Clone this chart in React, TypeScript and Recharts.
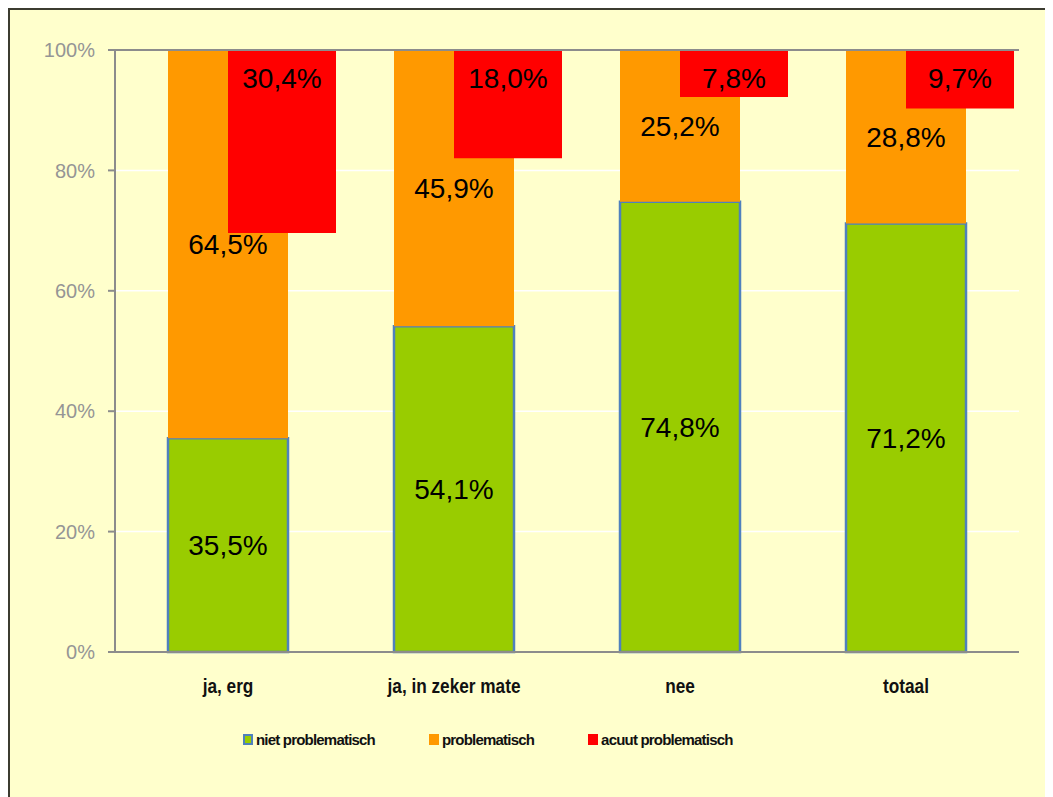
import React from 'react';
import { BarChart, Bar, XAxis, YAxis, CartesianGrid, Legend, LabelList, ReferenceLine } from 'recharts';

const categories = ['ja, erg', 'ja, in zeker mate', 'nee', 'totaal'];
const nietProblematisch = [35.5, 54.1, 74.8, 71.2];
const problematisch = [64.5, 45.9, 25.2, 28.8];
const acuutProblematisch = [30.4, 18.0, 7.8, 9.7];
const yTicks = [0, 20, 40, 60, 80, 100];

const COLORS = {
  niet: '#99CC00',
  prob: '#FF9900',
  acuut: '#FF0000',
  border: '#4F81BD',
  axis: '#8C8C8C',
  bg: '#FFFFCC'
};

const plainFont = "'Liberation Sans', Arial, sans-serif";

const data = categories.map((cat, i) => ({
  cat,
  niet: nietProblematisch[i],
  prob: problematisch[i],
  acuut: acuutProblematisch[i],
  // red bar floats from (100 - acuut) up to 100
  acuutBase: 100 - acuutProblematisch[i]
}));

const fmt = (v: any) => Number(v).toFixed(1).replace('.', ',') + '%';

// narrow bold labels (no Arial Narrow available, so squeeze horizontally)
const CategoryTick = ({ x, y, payload }: any) => (
  <g transform={`translate(${x},${y})`}>
    <text
      transform="scale(0.82,1)"
      textAnchor="middle"
      dy="0.71em"
      fill="#111"
      fontSize={21}
      fontWeight="bold"
      fontFamily={plainFont}
    >
      {payload.value}
    </text>
  </g>
);

const legendItems = [
  { label: 'niet problematisch', fill: COLORS.niet, stroke: COLORS.border },
  { label: 'problematisch', fill: COLORS.prob, stroke: 'none' },
  { label: 'acuut problematisch', fill: COLORS.acuut, stroke: 'none' }
];

const renderLegend = () => (
  <div style={{ display: 'flex', alignItems: 'center', height: 26, paddingLeft: 233, gap: 54 }}>
    {legendItems.map(item => (
      <div key={item.label} style={{ display: 'flex', alignItems: 'center' }}>
        <svg width={10} height={11} style={{ marginRight: 3 }}>
          <rect
            x={item.stroke === 'none' ? 0 : 1}
            y={item.stroke === 'none' ? 0 : 1}
            width={item.stroke === 'none' ? 10 : 8}
            height={item.stroke === 'none' ? 11 : 9}
            fill={item.fill}
            stroke={item.stroke}
            strokeWidth={2}
          />
        </svg>
        <span style={{ fontFamily: plainFont, fontWeight: 'bold', fontSize: 15, color: '#111', letterSpacing: -0.8 }}>
          {item.label}
        </span>
      </div>
    ))}
  </div>
);

export default function App() {
  return (
    <div style={{ width: 1043, height: 787, border: '2px solid #3C3C30', background: COLORS.bg }}>
      <BarChart
        width={1043}
        height={787}
        data={data}
        margin={{ top: 40, right: 34, left: 25, bottom: 45 }}
        barGap={-60}
      >
        <CartesianGrid vertical={false} stroke="#FFFFFF" strokeWidth={1.5} />
        <XAxis
          dataKey="cat"
          height={74}
          axisLine={{ stroke: COLORS.axis, strokeWidth: 2 }}
          tickLine={false}
          tickSize={0}
          tickMargin={26}
          tick={<CategoryTick />}
        />
        <YAxis
          width={80}
          domain={[0, 100]}
          ticks={yTicks}
          tickFormatter={(v: number) => v + '%'}
          axisLine={{ stroke: COLORS.axis, strokeWidth: 2 }}
          tickLine={{ stroke: COLORS.axis, strokeWidth: 2 }}
          tickSize={7}
          tickMargin={13}
          tick={{ fill: '#959595', fontSize: 20, fontFamily: plainFont }}
        />
        <YAxis
          yAxisId="right"
          orientation="right"
          width={0}
          domain={[0, 100]}
          tick={false}
          tickLine={false}
          axisLine={{ stroke: COLORS.axis, strokeWidth: 2 }}
        />
        <Legend verticalAlign="bottom" content={renderLegend} wrapperStyle={{ left: 0, width: 1043 }} />

        {/* spacer stack so the green/orange column sits on the category centre */}
        <Bar dataKey="acuut" stackId="spacer" barSize={108} fill="none" legendType="none" isAnimationActive={false} />

        <Bar dataKey="niet" stackId="a" barSize={120} fill={COLORS.niet} stroke={COLORS.border} strokeWidth={2.5} isAnimationActive={false}>
          <LabelList dataKey="niet" position="center" formatter={fmt} fill="#000" fontSize={28} fontFamily={plainFont} />
        </Bar>
        <Bar dataKey="prob" stackId="a" barSize={120} fill={COLORS.prob} isAnimationActive={false}>
          <LabelList dataKey="prob" position="center" formatter={fmt} fill="#000" fontSize={28} fontFamily={plainFont} />
        </Bar>

        <Bar dataKey="acuutBase" stackId="b" barSize={108} fill="none" legendType="none" isAnimationActive={false} />
        <Bar dataKey="acuut" stackId="b" barSize={108} fill={COLORS.acuut} isAnimationActive={false}>
          <LabelList dataKey="acuut" position="insideTop" offset={18} formatter={fmt} fill="#000" fontSize={28} fontFamily={plainFont} />
        </Bar>

        <ReferenceLine y={100} stroke={COLORS.axis} strokeWidth={2} />
      </BarChart>
    </div>
  );
}
